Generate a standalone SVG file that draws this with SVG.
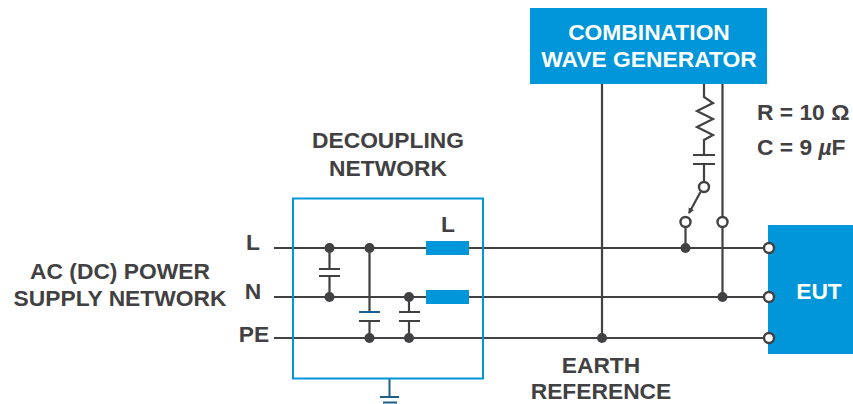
<svg xmlns="http://www.w3.org/2000/svg" width="853" height="404" viewBox="0 0 853 404">
<style>
text{font-family:"Liberation Sans",Arial,sans-serif;font-weight:700;font-size:22.8px;fill:#414042;text-anchor:middle}
.w{fill:none;stroke:#414042;stroke-width:2.2}
.g{fill:none;stroke:#1d5f8a;stroke-width:2}
.b{fill:#0096d9}
.d{fill:#414042}
.o{fill:#fff;stroke:#414042;stroke-width:2.4}
</style>
<defs><marker id="ah" markerWidth="7" markerHeight="7" refX="5" refY="3" orient="auto" markerUnits="userSpaceOnUse"><path d="M0 0L6 3L0 6Z" fill="#414042"/></marker></defs>
<rect width="853" height="404" fill="#fff"/>
<g id="connectors">
<path class="w" d="M274 248H768M274 297H768M274 338H768"/>
<path class="w" d="M602 80V338M722.500 80V222M722.500 228V297M685.500 228V248"/>
<path class="w" d="M704 80V97L713 103L697 111L713 119L697 127L713 135L704 140V155M693 155H715M693 164H715M704 164V183"/>
<path class="w" d="M700.500 192L689 213" marker-end="url(#ah)"/>
<path class="w" d="M329.500 248V269M319 269H340M319 276H340M329.500 276V297"/>
<path class="w" d="M369.500 248V312M359 321H380M369.500 321V338"/>
<path class="g" d="M359 312H380"/>
<path class="w" d="M409 297V312M399 312H420M399 321H420M409 321V338"/>
<path class="g" d="M389.500 379V397M380 397H399M383 402.500H397"/>
</g>
<g id="dots">
<circle class="d" cx="329.500" cy="248" r="5"/><circle class="d" cx="369.500" cy="248" r="5"/><circle class="d" cx="329.500" cy="297" r="5"/><circle class="d" cx="409" cy="297" r="5"/><circle class="d" cx="369.500" cy="338" r="5"/><circle class="d" cx="409" cy="338" r="5"/><circle class="d" cx="602" cy="338" r="5"/><circle class="d" cx="685.500" cy="248" r="5"/><circle class="d" cx="722.500" cy="297" r="5"/>
<circle class="o" cx="704" cy="187" r="5"/><circle class="o" cx="685.500" cy="222" r="5"/><circle class="o" cx="722.500" cy="222" r="5"/>
</g>
<g id="generator"><rect class="b" x="530" y="8" width="237" height="76"/><text x="649" y="40" style="fill:#fff">COMBINATION</text><text x="649" y="67" style="fill:#fff">WAVE GENERATOR</text></g>
<g id="values"><text x="757" y="120" style="text-anchor:start">R = 10 Ω</text><text x="757" y="155" style="text-anchor:start">C = 9 <tspan font-style="italic">µ</tspan>F</text></g>
<g id="decoupling"><rect x="293" y="198.500" width="190" height="180" fill="none" stroke="#0096d9" stroke-width="2"/><text x="388" y="148">DECOUPLING</text><text x="388" y="176">NETWORK</text></g>
<g id="inductor-l"><rect class="b" x="426" y="241" width="43" height="14"/><text x="448" y="232">L</text></g>
<g id="inductor-n"><rect class="b" x="426" y="290" width="43" height="14"/></g>
<g id="eut"><rect class="b" x="768" y="225" width="85" height="129"/><text x="819" y="299" style="fill:#fff">EUT</text><circle class="o" cx="769" cy="248" r="5"/><circle class="o" cx="769" cy="297" r="5"/><circle class="o" cx="769" cy="338" r="5"/></g>
<g id="labels"><text x="253" y="250">L</text><text x="253" y="299">N</text><text x="254" y="342">PE</text><text x="120" y="279">AC (DC) POWER</text><text x="120" y="306">SUPPLY NETWORK</text><text x="601" y="373">EARTH</text><text x="601" y="399">REFERENCE</text></g>
</svg>
